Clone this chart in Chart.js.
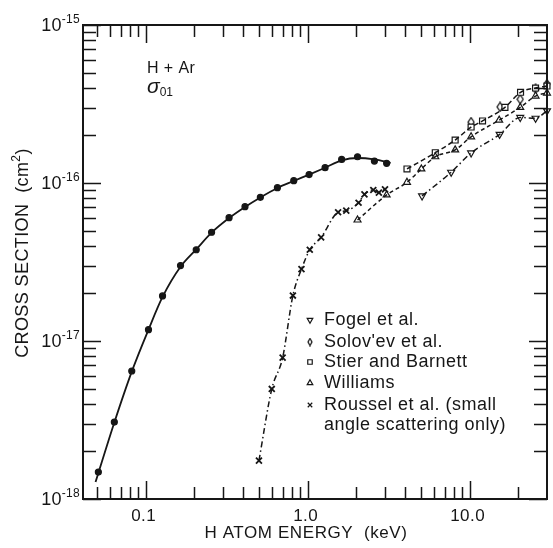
<!DOCTYPE html>
<html>
<head>
<meta charset="utf-8">
<script src="https://cdn.jsdelivr.net/npm/chart.js@4/dist/chart.umd.min.js"></script>
<style>
  html, body { margin: 0; padding: 0; background: #fff; }
  canvas { display: block; }
</style>
</head>
<body>
<canvas id="chart" width="553" height="548" style="width:553px;height:548px"></canvas>
<script>
// ── Data ─────────────────────────────────────────────────────
// smooth curve through the filled circles
const fitE = [0.049, 0.064, 0.082, 0.104, 0.127, 0.164, 0.205, 0.255, 0.327, 0.41, 0.51, 0.65, 0.82, 1.02, 1.28, 1.62, 2.03, 2.58, 3.25];
const fitS = [1.28e-18, 3.05e-18, 6.4e-18, 1.18e-17, 1.9e-17, 2.95e-17, 3.8e-17, 4.85e-17, 6.0e-17, 7.05e-17, 8.1e-17, 9.3e-17, 1.03e-16, 1.13e-16, 1.25e-16, 1.39e-16, 1.44e-16, 1.41e-16, 1.34e-16];
// filled circles
const dotE = [0.051, 0.064, 0.082, 0.104, 0.127, 0.164, 0.205, 0.255, 0.327, 0.41, 0.51, 0.65, 0.82, 1.02, 1.28, 1.62, 2.03, 2.58, 3.07];
const dotS = [1.48e-18, 3.07e-18, 6.46e-18, 1.18e-17, 1.93e-17, 3.0e-17, 3.78e-17, 4.88e-17, 6.03e-17, 7.08e-17, 8.12e-17, 9.34e-17, 1.034e-16, 1.13e-16, 1.25e-16, 1.41e-16, 1.466e-16, 1.377e-16, 1.333e-16];
// Roussel et al.
const rousE = [0.5, 0.6, 0.7, 0.81, 0.915, 1.03, 1.21, 1.54, 1.73, 2.06, 2.24, 2.54, 2.75, 3.0];
const rousS = [1.75e-18, 4.97e-18, 7.84e-18, 1.94e-17, 2.85e-17, 3.78e-17, 4.53e-17, 6.53e-17, 6.68e-17, 7.5e-17, 8.48e-17, 9.03e-17, 8.69e-17, 9.12e-17];
// Williams
const wilE = [2.03, 3.07, 4.1, 5.03, 6.13, 8.13, 10.2, 15.2, 20.5, 25.5, 30];
const wilS = [5.83e-17, 8.4e-17, 1.01e-16, 1.227e-16, 1.466e-16, 1.62e-16, 1.96e-16, 2.5e-16, 3.01e-16, 3.55e-16, 3.71e-16];
// Stier and Barnett
const stiE = [4.1, 6.13, 8.13, 10.2, 12.0, 16.5, 20.6, 25.5, 30];
const stiS = [1.227e-16, 1.555e-16, 1.87e-16, 2.26e-16, 2.47e-16, 3.01e-16, 3.75e-16, 3.99e-16, 4.11e-16];
// Solov'ev et al.
const solE = [10.2, 15.4, 20.5, 25.5, 30];
const solS = [2.43e-16, 3.03e-16, 3.39e-16, 3.94e-16, 4.23e-16];
// Fogel et al.
const fogE = [5.08, 7.68, 10.2, 15.3, 20.5, 25.5, 30];
const fogS = [8.28e-17, 1.17e-16, 1.55e-16, 2.03e-16, 2.6e-16, 2.57e-16, 2.86e-16];

// ── Axes ─────────────────────────────────────────────────────
const xMajor  = [0.1, 1, 10];
const xLabels = ['0.1', '1.0', '10.0'];
const xMinor  = [0.05, 0.06, 0.07, 0.08, 0.09, 0.2, 0.3, 0.4, 0.5, 0.6, 0.7, 0.8, 0.9, 2, 3, 4, 5, 6, 7, 8, 9, 20];
const yMajor  = [1e-15, 1e-16, 1e-17, 1e-18];
const yExp    = ['-15', '-16', '-17', '-18'];
const yMinor  = [];
[-16, -17, -18].forEach(p => { for (let m = 2; m <= 9; m++) yMinor.push(m * Math.pow(10, p)); });

const legendNames = ['Fogel et al.', "Solov'ev et al.", 'Stier and Barnett', 'Williams', 'Roussel et al. (small', 'angle scattering only)'];

const INK  = '#161616';
const FONT = '"Liberation Sans", Arial, sans-serif';

const pts = (xs, ys) => xs.map((x, i) => ({ x, y: ys[i] }));

// narrow open diamond for Solov'ev
function diamondImg(w, h) {
  const c = document.createElement('canvas');
  c.width = w + 2; c.height = h + 2;
  const g = c.getContext('2d');
  g.beginPath();
  g.moveTo(c.width / 2, 1); g.lineTo(c.width - 1, c.height / 2);
  g.lineTo(c.width / 2, c.height - 1); g.lineTo(1, c.height / 2);
  g.closePath();
  g.fillStyle = '#fff'; g.fill();
  g.lineWidth = 1.3; g.strokeStyle = INK; g.stroke();
  return c;
}
const DIAMOND = diamondImg(6, 9);
const DIAMOND_SM = diamondImg(4, 7);

// text with super/subscripts: parts = [[text, size, dy, style], ...]
function rich(ctx, parts, x, y, align, spacing) {
  ctx.letterSpacing = (spacing || 0) + 'px';
  let w = 0;
  parts.forEach(p => { ctx.font = (p[3] || '') + p[1] + 'px ' + FONT; w += ctx.measureText(p[0]).width; });
  let cx = align === 'right' ? x - w : align === 'center' ? x - w / 2 : x;
  parts.forEach(p => {
    ctx.font = (p[3] || '') + p[1] + 'px ' + FONT;
    ctx.textAlign = 'left';
    ctx.fillText(p[0], cx, y + (p[2] || 0));
    cx += ctx.measureText(p[0]).width;
  });
  ctx.letterSpacing = '0px';
}

function marker(ctx, style, x, y, r) {
  ctx.beginPath();
  if (style === 'down' || style === 'up') {
    const s = style === 'down' ? -1 : 1;
    ctx.moveTo(x, y - s * r);
    ctx.lineTo(x + r * 0.87, y + s * r * 0.5);
    ctx.lineTo(x - r * 0.87, y + s * r * 0.5);
    ctx.closePath();
    ctx.fillStyle = '#fff'; ctx.fill(); ctx.stroke();
  } else if (style === 'rect') {
    ctx.rect(x - r * 0.7, y - r * 0.7, r * 1.4, r * 1.4);
    ctx.fillStyle = '#fff'; ctx.fill(); ctx.stroke();
  } else if (style === 'cross') {
    ctx.moveTo(x - r * 0.7, y - r * 0.7); ctx.lineTo(x + r * 0.7, y + r * 0.7);
    ctx.moveTo(x + r * 0.7, y - r * 0.7); ctx.lineTo(x - r * 0.7, y + r * 0.7);
    ctx.stroke();
  } else if (style === 'diamond') {
    ctx.drawImage(DIAMOND_SM, x - DIAMOND_SM.width / 2, y - DIAMOND_SM.height / 2);
  }
}

const frame = {
  id: 'frame',
  afterDatasetsDraw(chart) {
    const { ctx, chartArea: a, scales: { x, y } } = chart;
    ctx.save();
    ctx.strokeStyle = INK;
    ctx.fillStyle = INK;

    // inward ticks on all four sides
    ctx.lineWidth = 1.5;
    const tx = (v, len) => {
      const px = Math.round(x.getPixelForValue(v)) + 0.5;
      ctx.beginPath();
      ctx.moveTo(px, a.bottom); ctx.lineTo(px, a.bottom - len);
      ctx.moveTo(px, a.top);    ctx.lineTo(px, a.top + len);
      ctx.stroke();
    };
    const ty = (v, len) => {
      const py = Math.round(y.getPixelForValue(v)) + 0.5;
      ctx.beginPath();
      ctx.moveTo(a.left, py);  ctx.lineTo(a.left + len, py);
      ctx.moveTo(a.right, py); ctx.lineTo(a.right - len, py);
      ctx.stroke();
    };
    xMinor.forEach(v => tx(v, 12));
    xMajor.forEach(v => tx(v, 18));
    yMinor.forEach(v => ty(v, 13));
    yMajor.forEach(v => ty(v, 18));

    ctx.lineWidth = 2;
    ctx.strokeRect(a.left, a.top, a.width, a.height);

    // tick labels
    ctx.textBaseline = 'middle';
    xMajor.forEach((v, i) => {
      rich(ctx, [[xLabels[i], 17]], x.getPixelForValue(v) - 2, a.bottom + 17, 'center', 0.5);
    });
    yMajor.forEach((v, i) => {
      rich(ctx, [['10', 18, 0], [yExp[i], 12, -6]], a.left - 3, y.getPixelForValue(v) + 1, 'right', 0.3);
    });

    // axis titles
    rich(ctx, [['H ATOM ENERGY  (keV)', 17]], 306, 533, 'center', 0.6);
    ctx.save();
    ctx.translate(23, 253);
    ctx.rotate(-Math.PI / 2);
    rich(ctx, [['CROSS SECTION  (cm', 18, 0], ['2', 12, -6], [')', 18, 0]], 0, 0, 'center', 0.4);
    ctx.restore();

    // annotation
    rich(ctx, [['H + Ar', 16]], 147, 69, 'left', 0.4);
    rich(ctx, [['σ', 21, 0, 'italic '], ['01', 12, 6]], 147, 87, 'left');

    // legend
    const styles = ['down', 'diamond', 'rect', 'up', 'cross'];
    const rows = [320, 342, 362, 383, 405, 425];
    ctx.lineWidth = 1.2;
    styles.forEach((s, i) => marker(ctx, s, 310, rows[i], 3.2));
    ctx.fillStyle = INK;
    legendNames.forEach((t, i) => rich(ctx, [[t, 18]], 324, rows[i], 'left', 0.5));

    ctx.restore();
  }
};

const lineBase = { showLine: true, pointRadius: 0, fill: false, borderColor: INK, clip: false, cubicInterpolationMode: 'monotone' };
const markBase = { showLine: false, borderColor: INK, backgroundColor: '#fff', borderWidth: 1.2, clip: false };

new Chart(document.getElementById('chart'), {
  type: 'scatter',
  data: {
    datasets: [
      { ...lineBase, data: pts(fitE, fitS), borderWidth: 1.8 },
      { ...lineBase, data: pts(rousE, rousS), borderWidth: 1.5, borderDash: [6, 3, 1.5, 3] },
      { ...lineBase, data: pts(wilE, wilS), borderWidth: 1.5, borderDash: [4, 3] },
      { ...lineBase, data: pts(stiE, stiS), borderWidth: 1.5, borderDash: [5, 3] },
      { ...lineBase, data: pts(fogE, fogS), borderWidth: 1.5, borderDash: [6, 3, 1.5, 3] },
      { ...markBase, data: pts(dotE, dotS), pointStyle: 'circle', pointRadius: 3, backgroundColor: INK },
      { ...markBase, data: pts(rousE, rousS), pointStyle: 'crossRot', pointRadius: 4.2, borderWidth: 1.8 },
      { ...markBase, data: pts(wilE, wilS), pointStyle: 'triangle', pointRadius: 4 },
      { ...markBase, data: pts(stiE, stiS), pointStyle: 'rect', pointRadius: 4.2 },
      { ...markBase, data: pts(solE, solS), pointStyle: DIAMOND },
      { ...markBase, data: pts(fogE, fogS), pointStyle: 'triangle', pointRotation: 180, pointRadius: 4 },
    ]
  },
  options: {
    responsive: false,
    animation: false,
    events: [],
    layout: { padding: { left: 83, right: 4, top: 25, bottom: 49 } },
    plugins: { legend: { display: false }, tooltip: { enabled: false } },
    scales: {
      x: { type: 'logarithmic', min: 0.041, max: 30, display: false },
      y: { type: 'logarithmic', min: 1e-18, max: 1e-15, display: false },
    }
  },
  plugins: [frame]
});
</script>
</body>
</html>
